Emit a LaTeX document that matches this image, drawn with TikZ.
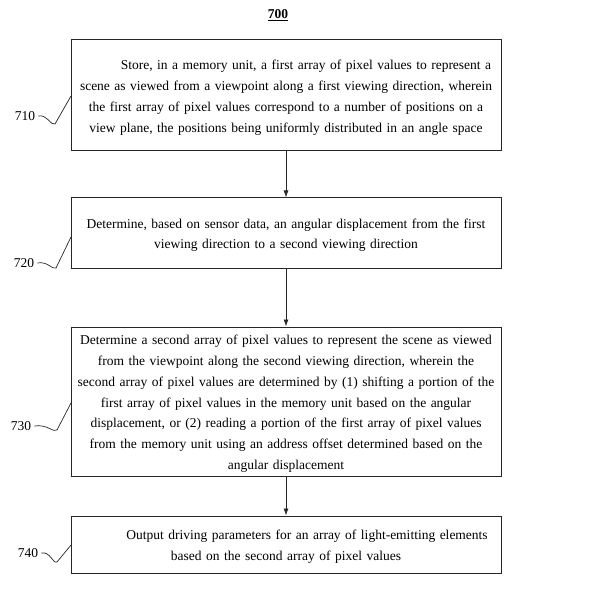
\documentclass[tikz,border=0pt]{standalone}
\usepackage{fontspec}
\setmainfont{Liberation Serif}
\usetikzlibrary{arrows.meta}
\newcommand{\toppad}{\rule{0pt}{14pt}}
\begin{document}
\begin{tikzpicture}[x=1pt,y=-1pt,
  every node/.style={font=\fontsize{13.5}{20.7}\selectfont},
  stepbox/.style={draw=black!85,line width=1pt,minimum width=430pt,text width=422pt,align=center,inner sep=0pt},
  flow/.style={draw=black!85,line width=0.8pt,-{Latex[length=7pt,width=5pt]}},
  lbl/.style={inner sep=1pt},
  squig/.style={draw=black!85,line width=0.7pt}]
\useasboundingbox (0,0) rectangle (588,601);
\node (title) at (278,15) {\underline{\textbf{700}}};
\node[stepbox,minimum height=111pt] (b710) at (286,95.5) {\toppad\hspace*{40pt}Store, in a memory unit, a first array of pixel values to represent a\\ scene as viewed from a viewpoint along a first viewing direction, wherein\\ the first array of pixel values correspond to a number of positions on a\\ view plane, the positions being uniformly distributed in an angle space};
\node[stepbox,minimum height=70pt] (b720) at (286,233) {\toppad Determine, based on sensor data, an angular displacement from the first\\ viewing direction to a second viewing direction};
\node[stepbox,minimum height=149pt] (b730) at (286,401.5) {\toppad Determine a second array of pixel values to represent the scene as viewed\\ from the viewpoint along the second viewing direction, wherein the\\ second array of pixel values are determined by (1) shifting a portion of the\\ first array of pixel values in the memory unit based on the angular\\ displacement, or (2) reading a portion of the first array of pixel values\\ from the memory unit using an address offset determined based on the\\ angular displacement};
\node[stepbox,minimum height=57pt] (b740) at (286,544.5) {\toppad\hspace*{42pt}Output driving parameters for an array of light-emitting elements\\ based on the second array of pixel values};
\draw[flow] (b710.south) -- (b720.north);
\draw[flow] (b720.south) -- (b730.north);
\draw[flow] (b730.south) -- (b740.north);
\node[lbl] (l710) at (25,116) {710};
\node[lbl] (l720) at (24,263) {720};
\node[lbl] (l730) at (21,426) {730};
\node[lbl] (l740) at (28,553) {740};
\coordinate (e710) at (71,96);
\coordinate (e720) at (71,237);
\coordinate (e730) at (71,403);
\coordinate (e740) at (71,545);
\draw[squig] ([xshift=2pt]l710.east) .. controls (47,114) and (51,126) .. (55,124) -- (e710);
\draw[squig] ([xshift=2pt]l720.east) .. controls (48,261) and (52,270) .. (56,268) -- (e720);
\draw[squig] ([xshift=2pt]l730.east) .. controls (48,424) and (53,433) .. (57,430) -- (e730);
\draw[squig] ([xshift=2pt]l740.east) .. controls (50,551) and (53,564) .. (57,562) -- (e740);
\end{tikzpicture}
\end{document}
